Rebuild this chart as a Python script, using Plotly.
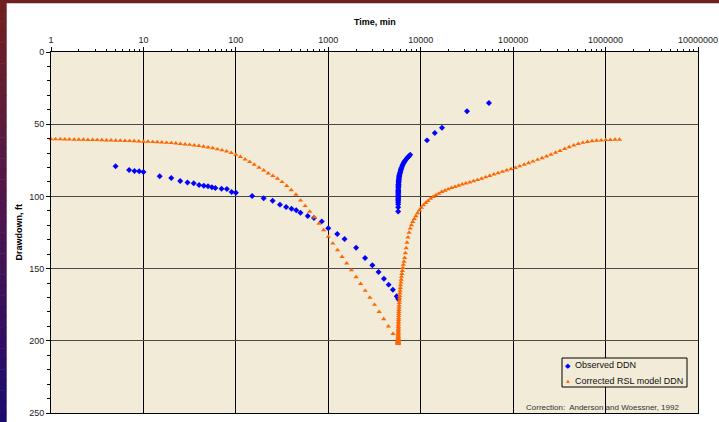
import plotly.graph_objects as go

# ---------------- data ----------------
t_stop = 5700  # min, end of pumping

# Corrected RSL model DDN - pumping phase
pump_time_min = [1, 1.12, 1.26, 1.41, 1.58, 1.78, 2, 2.24, 2.51, 2.82, 3.16, 3.55, 3.98, 4.47, 5.01, 5.62, 6.31, 7.08, 7.94, 8.91,
                 10, 11.2, 12.6, 14.1, 15.8, 17.8, 20, 22.4, 25.1, 28.2, 31.6, 35.5, 39.8, 44.7, 50.1, 56.2, 63.1, 70.8, 79.4, 89.1,
                 100, 112, 126, 141, 158, 178, 200, 224, 251, 282, 316, 355, 398, 447, 501, 562, 631, 708, 794, 891,
                 1000, 1120, 1260, 1410, 1580, 1780, 2000, 2240, 2510, 2820, 3160, 3550, 3980, 4470, 5010, 5620, 5700]
model_pump_ddn = [60.4, 60.4, 60.4, 60.5, 60.5, 60.6, 60.6, 60.7, 60.8, 60.8, 60.9, 61.0, 61.1, 61.2, 61.3, 61.4, 61.5, 61.6, 61.7, 61.8,
                  62.0, 62.1, 62.3, 62.4, 62.6, 62.8, 63.0, 63.3, 63.6, 63.9, 64.2, 64.6, 65.0, 65.5, 66.0, 66.6, 67.3, 68.0, 68.8, 69.8,
                  71.0, 72.6, 74.3, 76.1, 78.0, 80.0, 82.0, 84.0, 85.7, 87.7, 90.0, 92.7, 95.6, 98.8, 102.8, 106.6, 110.5, 114.5, 118.8, 123.3,
                  127.9, 132.6, 137.2, 141.8, 146.4, 151.1, 155.8, 160.5, 165.3, 170.1, 175.0, 180.0, 185.0, 190.0, 195.2, 200.6, 202.0]

# Corrected RSL model DDN - recovery phase (elapsed minutes since pump stop)
rec_elapsed_min = [1, 1.12, 1.26, 1.41, 1.58, 1.78, 2, 2.24, 2.51, 2.82, 3.16, 3.55, 3.98, 4.47, 5.01, 5.62, 6.31, 7.08, 7.94, 8.91,
                   10, 11.2, 12.6, 14.1, 15.8, 17.8, 20, 22.4, 25.1, 28.2, 31.6, 35.5, 39.8, 44.7, 50.1, 56.2, 63.1, 70.8, 79.4, 89.1,
                   100, 112, 126, 141, 158, 178, 200, 224, 251, 282, 316, 355, 398, 447, 501, 562, 631, 708, 794, 891,
                   1000, 1120, 1260, 1410, 1580, 1780, 2000, 2240, 2510, 2820, 3160, 3550, 3980, 4470, 5010, 5620, 6310, 7080, 7940, 8910,
                   10000, 11200, 12600, 14100, 15800, 17800, 20000, 22400, 25100, 28200, 31600, 35500, 39800, 44700, 50100, 56200, 63100, 70800, 79400, 89100,
                   100000, 112000, 126000, 141000, 158000, 178000, 200000, 224000, 251000, 282000, 316000, 355000, 398000, 447000, 501000, 562000, 631000, 708000, 794000, 891000,
                   1000000, 1120000, 1260000, 1410000]
model_rec_ddn = [201.8, 201.8, 201.7, 201.7, 201.6, 201.5, 201.4, 201.3, 201.2, 201.1, 201.0, 200.8, 200.6, 200.4, 200.2, 200.0, 199.8, 199.5, 199.3, 199.0,
                 198.7, 198.3, 197.9, 197.4, 196.9, 196.3, 195.6, 194.9, 194.1, 193.2, 192.3, 191.3, 190.3, 189.2, 188.0, 186.8, 185.5, 184.2, 182.8, 181.4,
                 180.0, 178.5, 177.0, 175.4, 173.8, 172.2, 170.5, 168.8, 167.0, 165.2, 163.4, 161.5, 159.6, 157.6, 155.6, 153.6, 151.5, 149.4, 147.3, 145.1,
                 142.5, 139.3, 135.8, 132.0, 128.3, 125.0, 122.2, 119.8, 117.6, 115.6, 113.6, 111.6, 109.6, 107.8, 106.1, 104.5, 103.0, 101.6, 100.3, 99.1,
                 98.0, 96.9, 95.9, 95.0, 94.1, 93.3, 92.5, 91.7, 91.0, 90.2, 89.4, 88.6, 87.7, 86.7, 85.7, 84.7, 83.8, 82.9, 82.0, 81.1,
                 80.2, 79.1, 78.0, 76.9, 75.8, 74.6, 73.4, 72.2, 71.0, 69.7, 68.4, 67.1, 65.8, 64.6, 63.6, 62.8, 62.2, 61.7, 61.4, 61.1,
                 60.9, 60.8, 60.7, 60.6]

# Observed DDN - pumping phase
obs_pump_time = [5, 7, 8, 9, 10, 15, 20, 25, 30, 35, 40, 45, 50, 55, 60, 70, 80, 90, 100, 150, 200, 250, 300, 350, 400, 450, 500,
                 600, 700, 850, 1000, 1250, 1500, 2000, 2500, 3000, 3500, 4000, 4500, 5000, 5500, 5700]
obs_pump_ddn = [79.2, 81.7, 82.4, 82.6, 83.1, 86.1, 87.3, 89.3, 90.3, 90.9, 92.1, 92.6, 93.0, 93.7, 94.2, 94.7, 94.9, 97.0, 97.4,
                99.7, 101.3, 103.0, 105.7, 107.3, 108.5, 109.6, 111.3, 113.6, 115.0, 117.3, 122.1, 126.0, 129.5, 135.5, 142.7,
                147.7, 152.4, 157.0, 161.1, 164.6, 169.2, 171.0]

# Observed DDN - recovery phase (elapsed minutes since pump stop)
obs_rec_elapsed = [1, 2, 3, 4, 5, 6, 7, 8, 9, 10, 12, 14, 16, 18, 20, 25, 30, 35, 40, 45, 50, 60, 70, 80, 90, 100,
                   120, 140, 160, 180, 200, 250, 300, 350, 400, 450, 500, 600, 700, 800, 900, 1000,
                   1200, 1400, 1600, 1800, 2000, 6000, 8500, 11300, 26000, 49000]
obs_rec_ddn = [110.5, 107.5, 105.5, 104.0, 103.0, 102.0, 101.2, 100.5, 99.9, 99.4, 98.4, 97.6, 96.9, 96.3, 95.9, 94.8, 93.9,
               93.2, 92.5, 92.0, 91.5, 90.6, 89.9, 89.3, 88.7, 88.2, 87.3, 86.6, 86.0, 85.5, 85.0, 84.0, 83.2, 82.4, 81.6,
               80.9, 80.2, 79.0, 78.0, 77.1, 76.3, 75.7, 74.6, 73.6, 72.8, 72.0, 71.2, 61.2, 56.1, 52.4, 41.1, 35.3]

x_tick_vals = [1, 10, 100, 1000, 10000, 100000, 1000000, 10000000]
x_tick_text = ["1", "10", "100", "1000", "10000", "100000", "1000000", "10000000"]
y_tick_vals = [0, 50, 100, 150, 200, 250]

# ---------------- figure ----------------
W, H = 719, 422
ML, MR, MT, MB = 51, 21, 52, 9
PW, PH = W - ML - MR, H - MT - MB


def px_x(p):
    return (p - ML) / PW


def px_y(p):
    return 1 - (p - MT) / PH


model_t = pump_time_min + [t_stop + d for d in rec_elapsed_min]
model_s = model_pump_ddn + model_rec_ddn
obs_t = obs_pump_time + [t_stop + d for d in obs_rec_elapsed]
obs_s = obs_pump_ddn + obs_rec_ddn

fig = go.Figure()
fig.add_trace(go.Scatter(x=obs_t, y=obs_s, mode="markers", name="Observed DDN",
                         marker=dict(symbol="diamond", size=4.6, color="#0000FF"), cliponaxis=False))
fig.add_trace(go.Scatter(x=model_t, y=model_s, mode="markers", name="Corrected RSL model DDN",
                         marker=dict(symbol="triangle-up", size=4.6, color="#FF6600"), cliponaxis=False))

minor_x = [m * 10 ** e for e in range(7) for m in range(2, 10)]
minor_y = [v for v in range(10, 250, 10) if v % 50]

fig.update_layout(
    template="none",
    width=W, height=H,
    margin=dict(l=ML, r=MR, t=MT, b=MB, autoexpand=False),
    paper_bgcolor="white",
    plot_bgcolor="#F1EBD7",
    showlegend=False,
    font=dict(family="Arial, 'Liberation Sans', sans-serif", size=9, color="#222222"),
)
fig.update_xaxes(
    type="log", range=[0, 7], side="top", automargin=False,
    tickmode="array", tickvals=x_tick_vals, ticktext=x_tick_text,
    ticks="outside", ticklen=4, tickcolor="black", tickwidth=1,
    showgrid=True, gridcolor="black", gridwidth=1,
    showline=True, linecolor="black", linewidth=1, mirror=True, zeroline=False,
    minor=dict(tickmode="array", tickvals=minor_x, ticks="outside", ticklen=2,
               tickcolor="black", showgrid=False),
)
fig.update_yaxes(
    range=[250, 0], automargin=False,
    tickmode="array", tickvals=y_tick_vals,
    ticks="outside", ticklen=4, tickcolor="black", tickwidth=1,
    showgrid=True, gridcolor="#484848", gridwidth=1,
    showline=True, linecolor="black", linewidth=1, mirror=True, zeroline=False,
    minor=dict(tickmode="array", tickvals=minor_y, ticks="outside", ticklen=3,
               tickcolor="black", showgrid=False),
)

shapes = []
# slide border: top maroon strip and left gradient strip
shapes.append(dict(type="rect", xref="paper", yref="paper", x0=px_x(0), x1=px_x(W), y0=px_y(3.3), y1=px_y(0),
                   fillcolor="#6E1F1F", line=dict(width=0), layer="below"))
N = 40
c_top, c_mid, c_bot = (112, 32, 32), (78, 22, 78), (28, 10, 110)
for i in range(N):
    f = (i + 0.5) / N
    if f < 0.5:
        a, b, g = c_top, c_mid, f / 0.5
    else:
        a, b, g = c_mid, c_bot, (f - 0.5) / 0.5
    col = "rgb(%d,%d,%d)" % tuple(round(a[k] + (b[k] - a[k]) * g) for k in range(3))
    shapes.append(dict(type="rect", xref="paper", yref="paper", x0=px_x(0), x1=px_x(6.7),
                       y0=px_y(H * (i + 1) / N + 0.5), y1=px_y(H * i / N),
                       fillcolor=col, line=dict(width=0), layer="below"))
# legend box
shapes.append(dict(type="rect", xref="paper", yref="paper", x0=px_x(562), x1=px_x(687), y0=px_y(387), y1=px_y(358),
                   fillcolor="#F1EBD7", line=dict(color="black", width=1)))
fig.update_layout(shapes=shapes)

ann = [
    dict(text="<b>Time, min</b>", x=0.5, y=px_y(22), xref="paper", yref="paper", showarrow=False,
         xanchor="center", yanchor="middle", font=dict(size=9, color="black")),
    dict(text="<b>Drawdown, ft</b>", x=px_x(18), y=0.5, xref="paper", yref="paper", showarrow=False,
         textangle=-90, xanchor="center", yanchor="middle", font=dict(size=9, color="black")),
    dict(text="◆", x=px_x(568), y=px_y(365), xref="paper", yref="paper", showarrow=False,
         xanchor="center", yanchor="middle", font=dict(size=7, color="#0000FF")),
    dict(text="Observed DDN", x=px_x(573), y=px_y(365), xref="paper", yref="paper", showarrow=False,
         xanchor="left", yanchor="middle", font=dict(size=9, color="#111111")),
    dict(text="▲", x=px_x(568), y=px_y(381), xref="paper", yref="paper", showarrow=False,
         xanchor="center", yanchor="middle", font=dict(size=6, color="#FF6600")),
    dict(text="Corrected RSL model DDN", x=px_x(573), y=px_y(381), xref="paper", yref="paper", showarrow=False,
         xanchor="left", yanchor="middle", font=dict(size=9, color="#111111")),
    dict(text="Correction:\u00a0 Anderson and Woessner, 1992", x=px_x(602), y=px_y(407), xref="paper", yref="paper",
         showarrow=False, xanchor="center", yanchor="middle", font=dict(size=8, color="#333333")),
]
fig.update_layout(annotations=ann)

# place the figure at the page origin (no default body margin), no mode bar
fig.write_html("out.html", config={"displayModeBar": False},
               post_script="document.body.style.margin='0';document.body.style.padding='0';")
